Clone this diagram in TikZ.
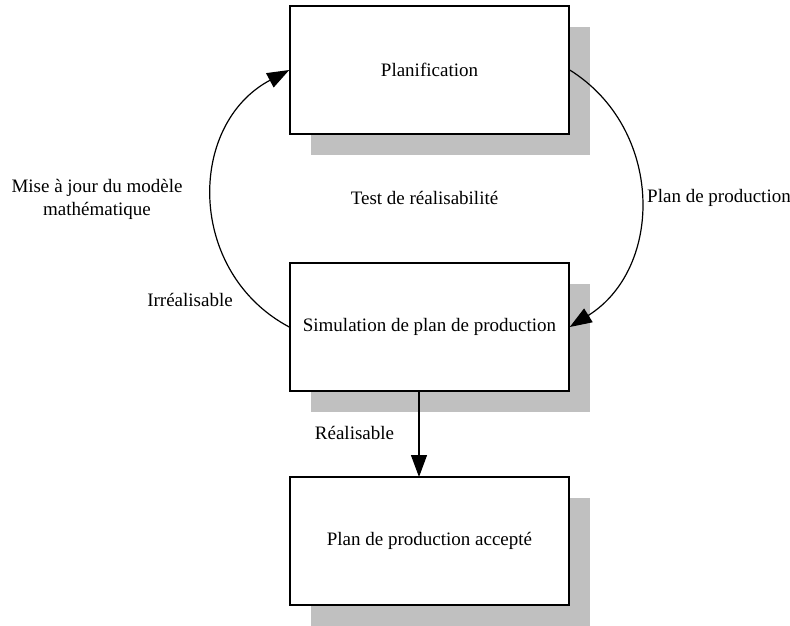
\documentclass[tikz,border=0pt]{standalone}
\usepackage{fontspec}
\setmainfont{Liberation Serif}
\usetikzlibrary{arrows.meta,shadows}
\definecolor{shadowgray}{RGB}{192,192,192}
\begin{document}
\begin{tikzpicture}[x=1pt,y=-1pt,line width=1.2pt,font=\fontsize{19}{23}\selectfont,
    >={Triangle[length=22pt,width=16pt]},
    box/.style={draw,line width=1.5pt,fill=white,minimum width=279pt,minimum height=128pt,inner sep=0pt,
      general shadow={fill=shadowgray,draw=none,shadow xshift=21pt,shadow yshift=-21pt}}]
  \useasboundingbox (0,0) rectangle (790,625);
  % boxes
  \node[box] (plan) at (429.5,70) {Planification};
  \node[box] (simu) at (429.5,327) {Simulation de plan de production};
  \node[box] (accept) at (429.5,541) {Plan de production accepté};
  % loop
  \draw[->] (plan.east) to[out=-32,in=32,looseness=1.11] (simu.east);
  \draw[->] (simu.west) to[out=152,in=208,looseness=1.16] (plan.west);
  \coordinate (down) at (419,391);
  \coordinate (downend) at (419,477);
  \draw[->] (down) -- (downend);
  % labels
  \node[align=center] (maj) at (97,199.5) {Mise à jour du modèle\\mathématique};
  \node (test) at (424.5,198) {Test de réalisabilité};
  \node (pp) at (719,198) {Plan de production};
  \node (irr) at (190,300) {Irréalisable};
  \node (real) at (354.5,433) {Réalisable};
\end{tikzpicture}
\end{document}
